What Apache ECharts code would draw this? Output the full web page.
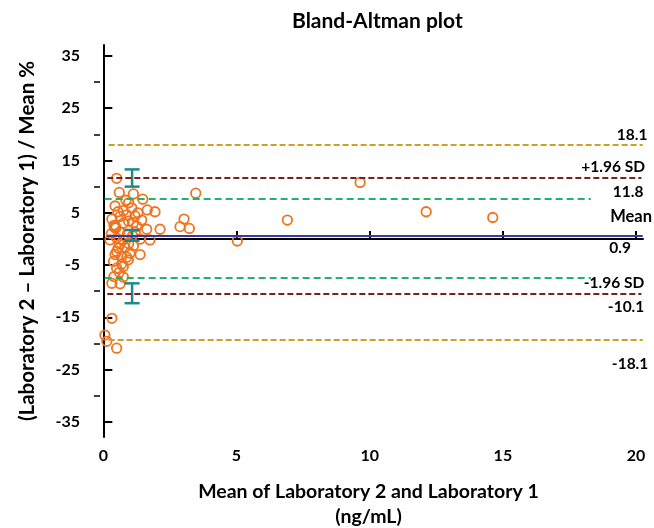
<!DOCTYPE html>
<html><head><meta charset="utf-8">
<script src="https://cdn.jsdelivr.net/npm/echarts@6/dist/echarts.min.js"></script>
<style>html,body{margin:0;padding:0;background:#fff}#c{width:654px;height:528px}</style>
</head><body><div id="c"></div>
<script>
// ---- data ----
const pointX = [0.50,0.60,1.13,1.48,0.85,0.44,0.75,1.07,1.65,1.94,0.32,0.63,0.88,1.19,1.44,0.42,0.45,0.47,0.40,0.75,1.13,1.63,2.13,
  0.25,0.50,0.75,1.38,1.75,0.56,0.81,1.13,1.38,0.44,0.69,1.00,0.38,0.69,0.50,0.75,0.94,0.40,0.75,0.32,0.63,
  0.95,0.55,1.30,0.95,1.25,0.62,0.90,1.10,0.95,0.62,0.50,0.88,0.60,1.20,0.30,
  0.32,0.06,0.13,0.50,
  2.88,3.03,3.23,3.47,5.03,6.91,9.64,12.12,14.62];
const pointY = [11.6,8.9,8.6,7.6,7.4,6.3,5.4,5.9,5.55,5.2,3.8,4.3,4.6,4.4,3.6,2.2,2.4,2.1,2.6,3.0,3.1,1.85,1.85,
  -0.2,0.13,-0.2,-0.05,-0.2,-1.8,-1.6,-1.3,-3.0,-3.0,-3.4,-2.7,-4.3,-4.8,-5.6,-5.3,-4.0,-7.2,-7.3,-8.5,-8.6,
  6.9,5.2,5.0,3.4,2.4,1.3,0.9,0.6,-0.9,-1.0,-2.4,-3.5,-6.4,1.3,1.0,
  -15.2,-18.4,-19.6,-20.9,
  2.35,3.8,2.0,8.75,-0.4,3.6,10.8,5.2,4.1];
const xTicks = [0, 5, 10, 15, 20];
const yTicks = [-35, -25, -15, -5, 5, 15, 25, 35];
const yMinorTicks = [-30, -20, -10, 0, 10, 20, 30];
const lineValues = [18.0, 11.65, 7.6, 0.7, -7.5, -10.4, -19.2];
const lineStartX = [0.2, 0.15, 0.05, 0.13, 0.05, 0.15, 0.2];
const lineEndX = [20.25, 20.2, 18.3, 20.25, 18.3, 20.2, 20.25];
const errX = [1.08, 1.08, 1.08];
const errLow = [10.0, -0.35, -12.3];
const errHigh = [13.3, 1.7, -8.5];
const labelTexts = ['18.1', '+1.96 SD', '11.8', 'Mean', '0.9', '-1.96 SD', '-10.1', '-18.1'];
const labelLineIndex = [0, 1, 1, 3, 3, 5, 5, 6];

// ---- styles ----
const lineStyles = [
  {color:'#c9a227', type:[6,3], width:2},
  {color:'#7a1f1f', type:[6,3], width:2},
  {color:'#22b36b', type:[7,4], width:2},
  {color:'#3a3a9e', type:'solid', width:2},
  {color:'#22b36b', type:[7,4], width:2},
  {color:'#7a1f1f', type:[6,3], width:2},
  {color:'#c9a227', type:[6,3], width:2}
];
const labelOffsets = [[-4,-10],[-23,-11],[-8,14],[-5,-19],[-16,13],[-22,-10],[-10,14],[-6,25]];
const FONT = 'Lato';

const chart = echarts.init(document.getElementById('c'));
const yMin = -37.9, yMax = 37.1;
const axisCommon = {
  axisLine:{show:true, lineStyle:{color:'#000', width:2}},
  splitLine:{show:false}
};
chart.setOption({
  animation:false,
  textStyle:{fontFamily:FONT},
  title:{text:'Bland-Altman plot', left:287, top:6,
    textStyle:{fontFamily:FONT, fontWeight:'bold', fontSize:21, color:'#000'}},
  grid:{left:94, right:11, top:45, bottom:91, containLabel:false, outerBoundsMode:'none'},
  xAxis:[{
    type:'value', min:-0.35, max:20.26,
    ...axisCommon,
    axisTick:{show:true, inside:true, length:8, lineStyle:{color:'#000', width:2}, customValues:xTicks},
    axisLabel:{show:true, customValues:xTicks, margin:11, fontFamily:FONT, fontWeight:'bold', fontSize:16, color:'#000'},
    name:'Mean of Laboratory 2 and Laboratory 1\n(ng/mL)', nameLocation:'middle', nameGap:42,
    nameTextStyle:{fontFamily:FONT, fontWeight:'bold', fontSize:19.5, color:'#000', lineHeight:25}
  }],
  yAxis:[{
    type:'value', min:yMin, max:yMax,
    ...axisCommon,
    axisTick:{show:true, inside:true, length:9, lineStyle:{color:'#000', width:2}, customValues:yTicks},
    axisLabel:{show:true, customValues:yTicks, margin:14, fontFamily:FONT, fontWeight:'bold', fontSize:16, color:'#000'},
    name:'(Laboratory 2 \u2013 Laboratory 1) / Mean %', nameLocation:'middle', nameGap:56,
    nameTextStyle:{fontFamily:FONT, fontWeight:'bold', fontSize:20.5, color:'#000'}
  },{
    type:'value', min:yMin, max:yMax, position:'left',
    axisLine:{show:false}, splitLine:{show:false},
    axisTick:{show:true, inside:true, length:6, lineStyle:{color:'#000', width:1.5}, customValues:yMinorTicks},
    axisLabel:{show:false}
  }],
  series:[
    {
      type:'line', data:[], z:1, silent:true,
      markLine:{
        silent:true, symbol:'none', animation:false, label:{show:false},
        data: lineValues.map((v,i)=>[
          {coord:[lineStartX[i], v], lineStyle:lineStyles[i]},
          {coord:[lineEndX[i], v]}
        ])
      }
    },
    {
      type:'scatter', z:3, symbol:'circle', symbolSize:9.5,
      itemStyle:{color:'rgba(255,255,255,0)', borderColor:'#ef7420', borderWidth:1.8, opacity:1},
      data: pointX.map((x,i)=>[x, pointY[i]])
    },
    {
      type:'custom', z:4,
      data: errX.map((x,i)=>[x, errLow[i], errHigh[i]]),
      renderItem:(params, api)=>{
        const x = api.value(0);
        const a = api.coord([x, api.value(1)]);
        const b = api.coord([x, api.value(2)]);
        const hw = 7.5, st = {stroke:'#1f8a8a', lineWidth:2.5};
        return {type:'group', children:[
          {type:'line', shape:{x1:a[0],y1:a[1],x2:b[0],y2:b[1]}, style:st},
          {type:'line', shape:{x1:a[0]-hw,y1:a[1],x2:a[0]+hw,y2:a[1]}, style:st},
          {type:'line', shape:{x1:b[0]-hw,y1:b[1],x2:b[0]+hw,y2:b[1]}, style:st}
        ]};
      }
    },
    {
      type:'scatter', z:5, symbolSize:0, silent:true,
      itemStyle:{opacity:1},
      data: labelTexts.map((t,i)=>({
        value:[20, lineValues[labelLineIndex[i]]],
        label:{show:true, position:'inside', offset:labelOffsets[i], formatter:t, opacity:1,
          fontFamily:FONT, fontWeight:'bold', fontSize:i===3?16.5:15.5, color:'#000', align:'center', verticalAlign:'middle'}
      }))
    }
  ]
});
</script></body></html>
